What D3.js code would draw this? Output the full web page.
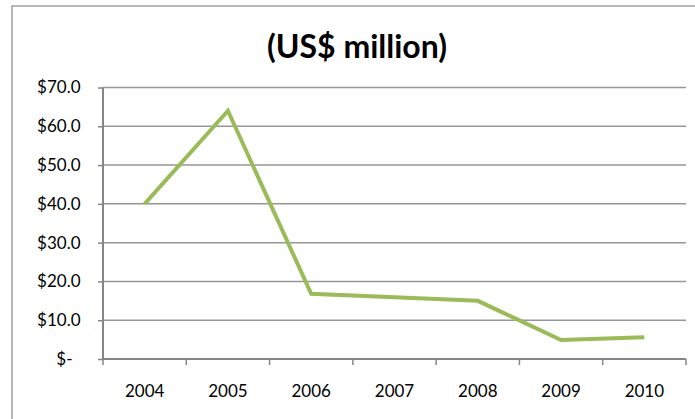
<!DOCTYPE html>
<html><head><meta charset="utf-8">
<script src="https://cdn.jsdelivr.net/npm/d3@7"></script>
<style>
body{margin:0;background:#fff;}
svg{display:block;}
text{font-family:Lato,"Open Sans",sans-serif;fill:#000;}
</style></head>
<body><svg id="c" width="695" height="419"></svg>
<script>
const years = ["2004","2005","2006","2007","2008","2009","2010"];
const values = [40.0, 64.0, 16.8, 15.9, 15.0, 4.9, 5.6];
const yTicks = [0,10,20,30,40,50,60,70];
const title = "(US$ million)";

(function(){
const svg = d3.select("#c");
svg.append("rect").attr("x",12).attr("y",6).attr("width",700).attr("height",430)
  .attr("fill","#fff").attr("stroke","#a0a0a0").attr("stroke-width",1.5);

const pL=103, pR=686, pT=87.5, pB=359;
const x = d3.scaleBand().domain(years).range([pL,pR]);
const y = d3.scaleLinear().domain([0,70]).range([pB,pT]);

svg.append("text").attr("x",357).attr("y",58).attr("text-anchor","middle")
  .style("font-size","32px").style("font-weight","bold").text(title);

svg.append("g").selectAll("line").data(yTicks.filter(d=>d>0)).join("line")
  .attr("x1",pL).attr("x2",pR).attr("y1",d=>y(d)).attr("y2",d=>y(d))
  .attr("stroke","#969696").attr("stroke-width",1.5);

const yAxis = svg.append("g").attr("transform",`translate(${pL},0)`)
  .call(d3.axisLeft(y).tickValues(yTicks).tickSize(5).tickPadding(17.5)
    .tickFormat(d=> d===0 ? "$-" : "$"+d.toFixed(1)));
yAxis.selectAll("text").style("font-size","17px");
yAxis.selectAll(".tick").filter(d=>d===0).select("text").attr("dx",-8);

const xAxis = svg.append("g").attr("transform",`translate(0,${pB})`)
  .call(d3.axisBottom(x).tickSize(0).tickPadding(26));
xAxis.selectAll("text").style("font-size","17px");
const bounds = years.map(d=>x(d)).concat([pR]);
xAxis.selectAll("line.b").data(bounds).join("line").attr("class","b")
  .attr("x1",d=>d).attr("x2",d=>d).attr("y1",0).attr("y2",6)
  .attr("stroke","#868686").attr("stroke-width",1.5);

[yAxis,xAxis].forEach(a=>{
  a.select(".domain").attr("stroke","#868686").attr("stroke-width",2);
  a.selectAll(".tick line").attr("stroke","#868686").attr("stroke-width",1.5);
});
xAxis.select(".domain").attr("d",`M${pL},0H${pR}`);
yAxis.select(".domain").attr("d",`M0,${pT}V${pB}`);

const line = d3.line().x((d,i)=>x(years[i])+x.bandwidth()/2).y(d=>y(d));
svg.append("path").datum(values).attr("d",line).attr("fill","none")
  .attr("stroke","#9bbb59").attr("stroke-width",4).attr("stroke-linejoin","miter");
})();
</script></body></html>
